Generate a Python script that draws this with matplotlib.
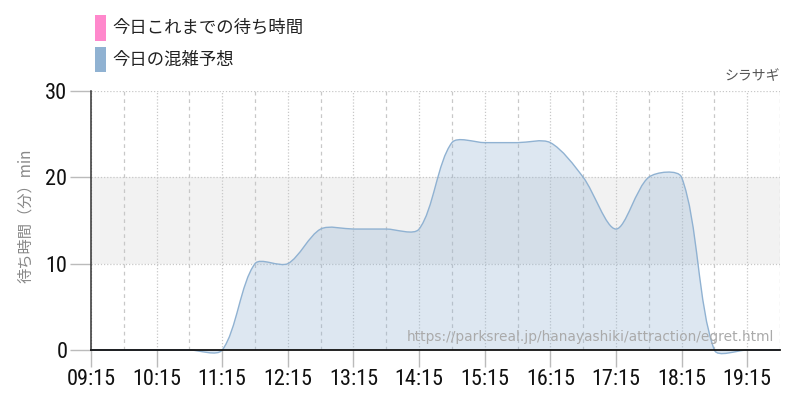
"""Wait-time forecast chart (hanayashiki / egret)."""
import matplotlib
matplotlib.use('Agg')
import matplotlib.pyplot as plt
from matplotlib.path import Path
from matplotlib.patches import PathPatch, Rectangle
from matplotlib import font_manager
import numpy as np

# ── data ──
times = ['09:15', '09:45', '10:15', '10:45', '11:15', '11:45', '12:15', '12:45',
         '13:15', '13:45', '14:15', '14:45', '15:15', '15:45', '16:15', '16:45',
         '17:15', '17:45', '18:15', '18:45', '19:15', '19:45']
forecast = [0, 0, 0, 0, 0, 10, 10, 14, 14, 14, 14, 24, 24, 24, 24, 20,
            14, 20, 20, 0, 0, 0]
today = []   # 今日これまでの待ち時間 (no data yet)
tick_labels = ['09:15', '10:15', '11:15', '12:15', '13:15', '14:15',
               '15:15', '16:15', '17:15', '18:15', '19:15']
title = 'シラサギ'
url = 'https://parksreal.jp/hanayashiki/attraction/egret.html'

C_TODAY = '#ff88cc'
C_PRED = '#90b2d2'
GRID = '#c8c8c8'

installed = {f.name for f in font_manager.fontManager.ttflist}
NARROW = next((f for f in ['Liberation Sans Narrow', 'Roboto Condensed', 'Roboto']
               if f in installed), 'DejaVu Sans')
JP = ['Noto Sans CJK JP', 'DejaVu Sans']


def to_hours(s):
    h, m = s.split(':')
    return int(h) + int(m) / 60


x = np.array([to_hours(t) for t in times])
y = np.array(forecast, dtype=float)

fig = plt.figure(figsize=(8, 4), dpi=100)
ax = fig.add_axes([0.11375, 0.125, 0.86125, 0.648])
ax.set_xlim(x[0], x[-1])
ax.set_ylim(0, 30)

# grey band 10-20
ax.axhspan(10, 20, color='#f2f2f2', zorder=0, lw=0)
for v in (10, 20, 30):
    ax.axhline(v, color=GRID, lw=0.9, ls=(0, (1, 1.5)), zorder=1)
for h in np.arange(x[0], x[-1] + 0.01, 0.5):
    if abs((h - x[0]) % 1) < 1e-6:
        ax.axvline(h, color=GRID, lw=0.9, ls=(0, (1, 1.5)), zorder=1)
    else:
        ax.axvline(h, color=GRID, lw=0.9, ls=(0, (3, 3)), zorder=1)

# smooth curve like the web chart (bezier through the points)
fig.canvas.draw()
pts = ax.transData.transform(np.column_stack([x, y]))
inv = ax.transData.inverted()
t = 0.3
verts = [pts[0]]
codes = [Path.MOVETO]
ctrl = []
for i in range(len(pts)):
    p = pts[max(i - 1, 0)]
    c = pts[i]
    n = pts[min(i + 1, len(pts) - 1)]
    d01 = np.hypot(*(c - p))
    d12 = np.hypot(*(n - c))
    tot = d01 + d12
    s01 = d01 / tot if tot else 0
    s12 = d12 / tot if tot else 0
    ctrl.append((c - t * s01 * (n - p), c + t * s12 * (n - p)))
for i in range(1, len(pts)):
    verts += [ctrl[i - 1][1], ctrl[i][0], pts[i]]
    codes += [Path.CURVE4] * 3
verts = inv.transform(np.array(verts))

line_path = Path(verts, codes)
fill_path = Path(np.vstack([verts, [[x[-1], 0], [x[0], 0], [x[0], 0]]]),
                 codes + [Path.LINETO, Path.LINETO, Path.CLOSEPOLY])
ax.add_patch(PathPatch(fill_path, facecolor=C_PRED, alpha=0.3, lw=0, zorder=2, clip_on=False))
ax.add_patch(PathPatch(line_path, facecolor='none', edgecolor=C_PRED, lw=1.0, zorder=3, clip_on=False))

# axes styling
for s in ('top', 'right'):
    ax.spines[s].set_visible(False)
ax.spines['left'].set_color('#333333')
ax.spines['left'].set_linewidth(1.1)
ax.spines['bottom'].set_color('#111111')
ax.spines['bottom'].set_linewidth(1.3)
ax.spines['bottom'].set_zorder(4)

ax.set_xticks([to_hours(t) for t in tick_labels])
ax.set_xticklabels(tick_labels, fontfamily=NARROW, fontsize=16, color='#111111')
ax.set_yticks([0, 10, 20, 30])
ax.set_yticklabels(['0', '10', '20', '30'], fontfamily=NARROW, fontsize=16, color='#111111')
ax.tick_params(axis='x', length=12, color='#bbbbbb', width=1, pad=2)
ax.tick_params(axis='y', length=15, color='#bbbbbb', width=1, pad=2)

fig.text(26 / 800, 0.46, '待ち時間（分）min', rotation=90, ha='center', va='center',
         fontsize=11, color='#888888', family=JP)
fig.text(0.975, 0.81, title, ha='right', va='center', fontsize=10, color='#555555', family=JP)
fig.text(0.9675, 0.158, url, ha='right', va='center', fontsize=9.9, color='#aaaaaa', zorder=5)

# legend drawn as in the page header
fig.add_artist(Rectangle((95 / 800, 0.8975), 0.01375, 0.065, transform=fig.transFigure,
                         color=C_TODAY, lw=0))
fig.add_artist(Rectangle((95 / 800, 0.82), 0.01375, 0.0625, transform=fig.transFigure,
                         color=C_PRED, lw=0))
fig.text(0.14, 0.93, '今日これまでの待ち時間', ha='left', va='center', fontsize=12.5,
         color='#222222', family=JP)
fig.text(0.14, 0.851, '今日の混雑予想', ha='left', va='center', fontsize=12.5,
         color='#222222', family=JP)

fig.savefig('out.png', dpi=100)
